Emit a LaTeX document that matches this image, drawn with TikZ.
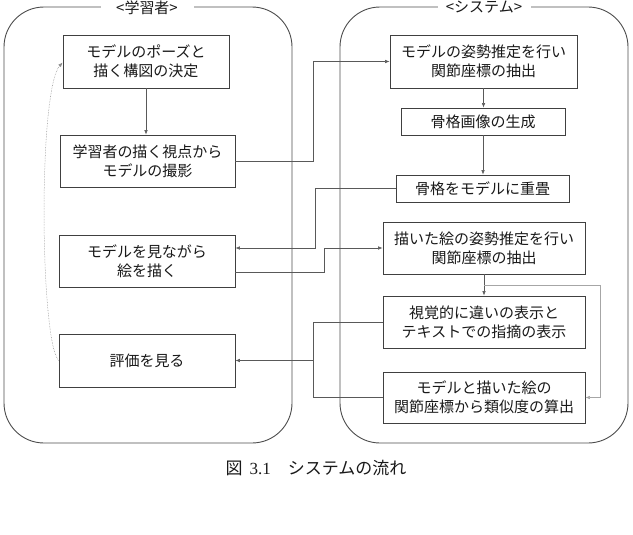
\documentclass[tikz,border=0pt]{standalone}
\usepackage{fontspec}
\setmainfont{Noto Sans CJK JP}
\newfontfamily\numfont{Liberation Serif}
\usetikzlibrary{arrows.meta, calc}

\begin{document}
\begin{tikzpicture}[x=1pt, y=-1pt,
    box/.style={draw=black!75, line width=.8pt, align=center, inner sep=0pt,
                text=black!90, font=\fontsize{15}{19}\selectfont},
    link/.style={draw=black!65, line width=.6pt},
    arr/.style={link, -{Latex[length=4.5pt,width=3.5pt]}},
    side/.style={draw=black!70, line width=.9pt, rounded corners=40pt},
    head/.style={fill=white, inner sep=0pt, minimum width=93pt, text=black!90,
                 anchor=north, font=\fontsize{15}{17}\selectfont}]
            \useasboundingbox (0,0) rectangle (633,535);
            % outline
            \draw[side] (4,7) rectangle (292,443);
            \draw[side] (340,7) rectangle (628,443);
            \node[head] (hl) at (147,1) {<学習者>};
            \node[head] (hr) at (484,1) {<システム>};
            % learner
            \node[box, minimum width=166pt, minimum height=53pt] (L1) at (146,61.5)
                  {モデルのポーズと\\描く構図の決定};
            \node[box, minimum width=175pt, minimum height=52pt] (L2) at (147.5,161)
                  {学習者の描く視点から\\モデルの撮影};
            \node[box, minimum width=176pt, minimum height=52pt] (L3) at (147,261)
                  {モデルを見ながら\\絵を描く};
            \node[box, minimum width=176pt, minimum height=53pt] (L4) at (147,360.5)
                  {評価を見る};
            % system
            \node[box, minimum width=187pt, minimum height=53pt] (R1) at (483.5,61.5)
                  {モデルの姿勢推定を行い\\関節座標の抽出};
            \node[box, minimum width=164pt, minimum height=27pt] (R2) at (483,121.5)
                  {骨格画像の生成};
            \node[box, minimum width=173pt, minimum height=27pt] (R3) at (482.5,188.5)
                  {骨格をモデルに重畳};
            \node[box, minimum width=202pt, minimum height=52pt] (R4) at (484,248)
                  {描いた絵の姿勢推定を行い\\関節座標の抽出};
            \node[box, minimum width=202pt, minimum height=52pt] (R5) at (484,322)
                  {視覚的に違いの表示と\\テキストでの指摘の表示};
            \node[box, minimum width=202pt, minimum height=51pt] (R6) at (484,397.5)
                  {モデルと描いた絵の\\関節座標から類似度の算出};
            % flow
            \draw[arr] (L1.south) -- (L1.south |- L2.north);
            \draw[arr] (L2.east) -- ++(78,0) |- (R1.west);
            \draw[arr] (R1.south) -- (R1.south |- R2.north);
            \draw[arr] (R2.south) -- (R2.south |- R3.north);
            \draw[arr] (R3.west) -- ++(-80,0) |- ([yshift=13pt]L3.east);
            \draw[arr] ([yshift=-11pt]L3.east) -- ++(89,0) |- (R4.west);
            \draw[arr] (R4.south) -- (R4.south |- R5.north);
            \coordinate (br) at ($(R4.south)!0.5!(R5.north)$);
            \draw[arr, draw=black!35] (br) -- ++(116,0) |- (R6.east);
            \draw[arr] (R5.west) -- ++(-69,0) |- (L4.east);
            \draw[link] (R6.west) -- ++(-69,0) -- ++(0,-37);
            % back to start
            \draw[arr, draw=black!45, densely dotted, line width=.5pt]
                  (L4.west) .. controls (40,340) and (38,90) .. ([yshift=-1pt]L1.west);
            % caption
            \node[text=black!90, font=\fontsize{17}{20}\selectfont] (cap) at (316,468)
                  {図\,{\numfont\ 3.1}　システムの流れ};
        \end{tikzpicture}
\end{document}
